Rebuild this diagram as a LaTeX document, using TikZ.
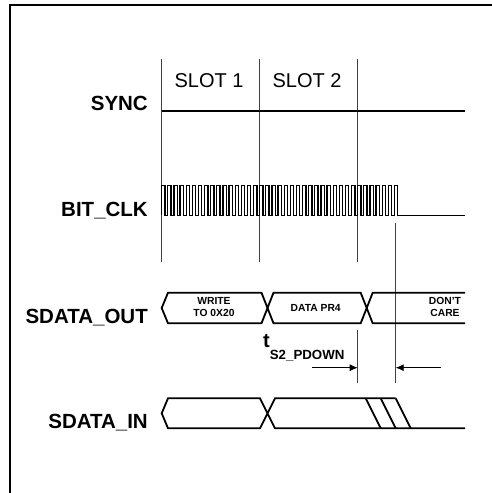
\documentclass[tikz,border=0pt]{standalone}
\usepackage{fontspec}
\setmainfont{Liberation Sans}
\usetikzlibrary{arrows.meta,positioning}

\tikzset{
  sig/.style={line width=1.8pt,line join=miter},
  clk/.style={line width=1.3pt,line join=miter},
  slotline/.style={line width=0.8pt,black!75},
  signame/.style={font=\fontsize{20.5}{24}\bfseries,anchor=base east,inner sep=0pt},
  slotname/.style={font=\fontsize{20}{24}\selectfont,anchor=base,inner sep=0pt},
  busval/.style={font=\fontsize{10.3}{12}\bfseries,anchor=base,inner sep=0pt},
  dimarrow/.style={line width=0.8pt,-{Latex[length=8pt,width=7pt]}}
}

\begin{document}
\begin{tikzpicture}[x=1pt,y=-1pt]

  \useasboundingbox (0,0) rectangle (492,493);
  \draw[line width=2.2pt] (10,493) -- (10,5) -- (492,5);

  % slot boundaries
  \foreach \s in {161.7,259.7,357.7}
    \draw[slotline] (\s,59.3) -- (\s,261.7);
  \draw[slotline] (357.7,330) -- (357.7,382.7);
  \draw[slotline] (395.7,223.3) -- (395.7,382.7);

  \node[slotname] (slot1) at (209,87.3) {SLOT 1};
  \node[slotname] (slot2) at (307,87.3) {SLOT 2};

  % signal names
  \node[signame] (sync) at (148,110) {SYNC};
  \node[signame] (bitclk) at (148,216) {BIT\_CLK};
  \node[signame] (sdout) at (148,323.3) {SDATA\_OUT};
  \node[signame] (sdin) at (148,428.3) {SDATA\_IN};

  % SYNC
  \draw[sig] (161.7,110.7) -- (465,110.7);

  % BIT_CLK
  \draw[clk] (161.7,215.3) \foreach \k in {0,...,38} {
      -- ++(0,-29.6) -- ++(3.3,0) -- ++(0,29.6) -- ++(2.825,0) }
    -- (465,215.3);

  % SDATA_OUT
  \draw[sig] (465,292.7) -- (372.7,292.7) -- (360.7,323.3) -- (273.5,323.3)
    -- (261.5,292.7) -- (168,292.7) -- (161.7,308) -- (168,323.3)
    -- (261.5,323.3) -- (273.5,292.7) -- (360.7,292.7) -- (372.7,323.3) -- (465,323.3);
  \node[busval] (wr1) at (214,304) {WRITE};
  \node[busval] (wr2) at (214,316.7) {TO 0X20};
  \node[busval] (pr4) at (315.7,311) {DATA PR4};
  \node[busval] (dc1) at (445,304) {DON'T};
  \node[busval] (dc2) at (445,316.7) {CARE};

  % power down time
  \node[anchor=base west,inner sep=0pt] (tpd) at (263,347.3)
    {\fontsize{20}{24}\bfseries t\raisebox{-12pt}{\fontsize{13.3}{16}\bfseries S2\_PDOWN}};
  \coordinate (la) at (312,367.7);
  \coordinate (lb) at (357.7,367.7);
  \coordinate (ra) at (440.7,367.7);
  \coordinate (rb) at (395.7,367.7);
  \draw[dimarrow] (la) -- (lb);
  \draw[dimarrow] (ra) -- (rb);

  % SDATA_IN
  \draw[sig] (395.7,398.3) -- (275,398.3) -- (260,428.3) -- (168,428.3)
    -- (161.7,413.3) -- (168,398.3) -- (260,398.3) -- (275,428.3) -- (465,428.3);
  \foreach \a in {365.7,380.7,395.7}
    \draw[sig] (\a,398.3) -- ++(15,30);

\end{tikzpicture}
\end{document}
